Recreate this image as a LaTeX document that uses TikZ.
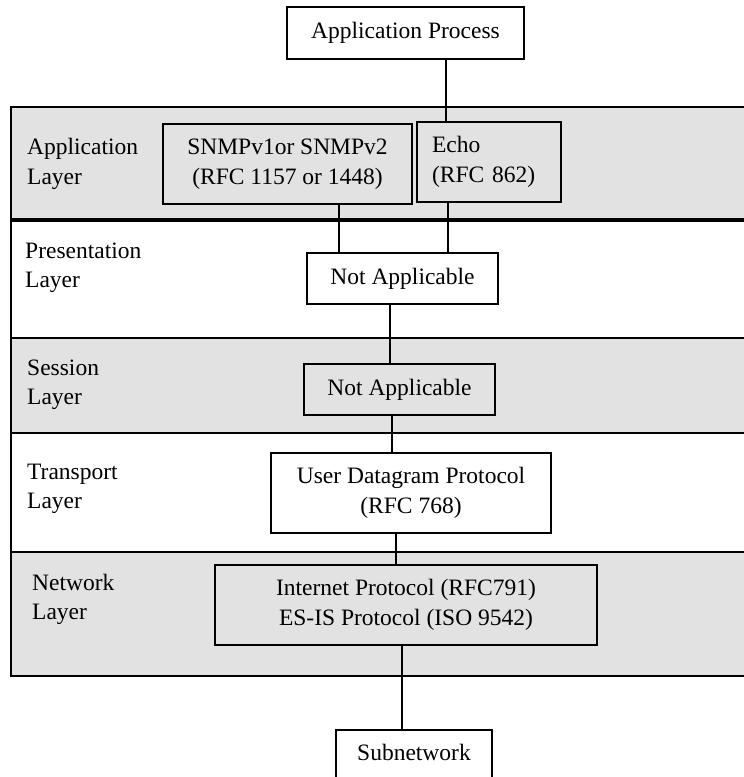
\documentclass[tikz,border=0pt]{standalone}
\usepackage{fontspec}
\setmainfont{Liberation Serif}
\definecolor{bandgray}{HTML}{E2E2E2}
\begin{document}
\begin{tikzpicture}[x=1pt, y=-1pt,
    protobox/.style={draw, line width=1.5pt, inner sep=0pt, align=center, font=\fontsize{23.5}{29.5}\selectfont},
    layerlabel/.style={anchor=west, inner sep=0pt, align=left, font=\fontsize{23.5}{29.5}\selectfont},
    link/.style={line width=1.5pt},
    bandline/.style={line width=1.5pt}]
    \useasboundingbox (0,0) rectangle (744,777);
    \clip (0,0) rectangle (744,777);
    % layer bands
    \fill[bandgray] (11,107) rectangle (750,220);
    \fill[bandgray] (11,338) rectangle (750,433);
    \fill[bandgray] (11,552) rectangle (750,676);
    \draw[bandline] (750,107) -- (11,107) -- (11,676) -- (750,676);
    \foreach \y in {338,433,552} \draw[bandline] (11,\y) -- (750,\y);
    \draw[line width=4pt] (11,220) -- (750,220);
    % layer names
    \node[layerlabel] (applbl) at (27,164) {Application\\Layer};
    \node[layerlabel] (preslbl) at (25,268) {Presentation\\Layer};
    \node[layerlabel] (sesslbl) at (27,384.5) {Session\\Layer};
    \node[layerlabel] (translbl) at (27,489) {Transport\\Layer};
    \node[layerlabel] (netlbl) at (32,599.5) {Network\\Layer};
    % application process
    \node[protobox, minimum width=237, minimum height=52] (ap) at (405.5,33) {Application Process};
    % application layer
    \node[protobox, minimum width=249, minimum height=80] (snmp) at (287.5,164) {SNMPv1or SNMPv2\\(RFC 1157 or 1448)};
    \node[protobox, minimum width=144, minimum height=80, text width=114, align=left] (echo) at (489,162) {Echo\\(RFC 862)};
    % presentation layer
    \node[protobox, minimum width=191, minimum height=51] (pres) at (402.5,278.5) {Not Applicable};
    % session layer
    \node[protobox, minimum width=191, minimum height=51] (sess) at (399.5,389.5) {Not Applicable};
    % transport layer
    \node[protobox, minimum width=280, minimum height=80] (udp) at (411,493) {User Datagram Protocol\\(RFC 768)};
    % network layer
    \node[protobox, minimum width=382, minimum height=80] (ip) at (406,605) {Internet Protocol (RFC791)\\ES-IS Protocol (ISO 9542)};
    % subnetwork
    \node[protobox, anchor=north, minimum width=156, inner ysep=14, text depth=40] (sub) at (414,729) {Subnetwork};
    % links
    \draw[link] (446,0 |- ap.south) -- (446,0 |- echo.north);
    \draw[link] (339,0 |- snmp.south) -- (339,0 |- pres.north);
    \draw[link] (448,0 |- echo.south) -- (448,0 |- pres.north);
    \draw[link] (390,0 |- pres.south) -- (390,0 |- sess.north);
    \draw[link] (392,0 |- sess.south) -- (392,0 |- udp.north);
    \draw[link] (396,0 |- udp.south) -- (396,0 |- ip.north);
    \draw[link] (402,0 |- ip.south) -- (402,0 |- sub.north);
\end{tikzpicture}
\end{document}
